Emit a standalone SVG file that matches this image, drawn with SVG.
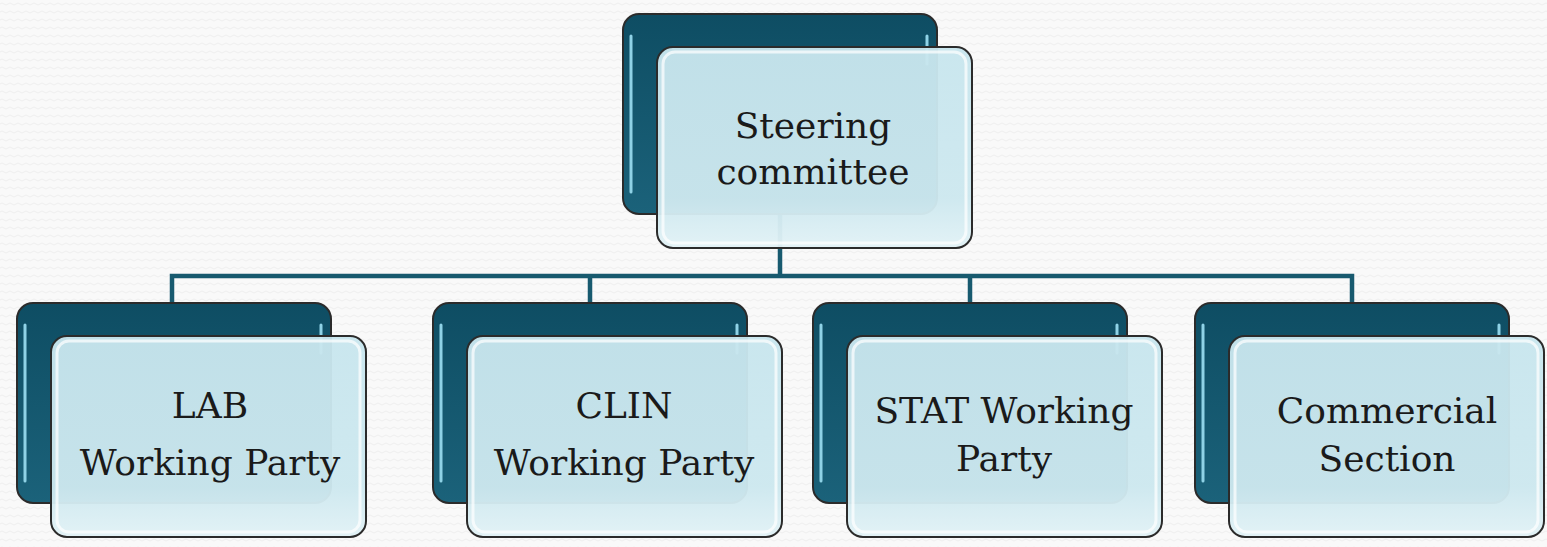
<svg xmlns="http://www.w3.org/2000/svg" width="1547" height="547" viewBox="0 0 1547 547">
<defs>
<linearGradient id="dark" x1="0" y1="0" x2="0" y2="1">
<stop offset="0" stop-color="#0e4d63"/>
<stop offset="1" stop-color="#1b627a"/>
</linearGradient>
<linearGradient id="light" x1="0" y1="0" x2="0" y2="1">
<stop offset="0" stop-color="#c8e6ee"/>
<stop offset="0.75" stop-color="#cde8ef"/>
<stop offset="1" stop-color="#e2f2f6"/>
</linearGradient>
<pattern id="bg" width="8" height="8" patternUnits="userSpaceOnUse">
<rect width="8" height="8" fill="#f9f9f9"/>
<path d="M0 4 Q2 2 4 4 T8 4" fill="none" stroke="#efefef" stroke-width="1"/>
</pattern>
<g id="box">
<rect x="0" y="0" width="314" height="200" rx="16" fill="url(#dark)" stroke="#2b2b2b" stroke-width="2"/>
<line x1="8" y1="22" x2="8" y2="178" stroke="#8fd2e6" stroke-width="3" stroke-linecap="round"/>
<line x1="304" y1="22" x2="304" y2="50" stroke="#8fd2e6" stroke-width="3" stroke-linecap="round"/>
<rect x="34" y="33" width="315" height="201" rx="16" fill="url(#light)" fill-opacity="0.96" stroke="#2b2b2b" stroke-width="2"/>
<rect x="40" y="38" width="303" height="191" rx="12" fill="none" stroke="#ffffff" stroke-opacity="0.7" stroke-width="3"/>
</g>
</defs>
<style>
.conn{fill:none;stroke:#185a6f;stroke-width:4.5}
.lbl{font-family:"DejaVu Serif","Liberation Serif",serif;font-size:36px;fill:#1a1a1a;text-anchor:middle}
</style>
<rect width="1547" height="547" fill="url(#bg)"/>
<g id="connectors">
<path class="conn" d="M780 215 V276 M172 303 V276 H1352 V303 M590 276 V303 M970 276 V303"/>
</g>
<g id="steering">
<use href="#box" x="623" y="14"/>
<text class="lbl" x="813" y="138">Steering</text>
<text class="lbl" x="813" y="184">committee</text>
</g>
<g id="lab">
<use href="#box" x="17" y="303"/>
<text class="lbl" x="210" y="418">LAB</text>
<text class="lbl" x="210" y="475">Working Party</text>
</g>
<g id="clin">
<use href="#box" x="433" y="303"/>
<text class="lbl" x="624" y="418">CLIN</text>
<text class="lbl" x="624" y="475">Working Party</text>
</g>
<g id="stat">
<use href="#box" x="813" y="303"/>
<text class="lbl" x="1004" y="423">STAT Working</text>
<text class="lbl" x="1004" y="471">Party</text>
</g>
<g id="commercial">
<use href="#box" x="1195" y="303"/>
<text class="lbl" x="1387" y="423">Commercial</text>
<text class="lbl" x="1387" y="471">Section</text>
</g>
</svg>
